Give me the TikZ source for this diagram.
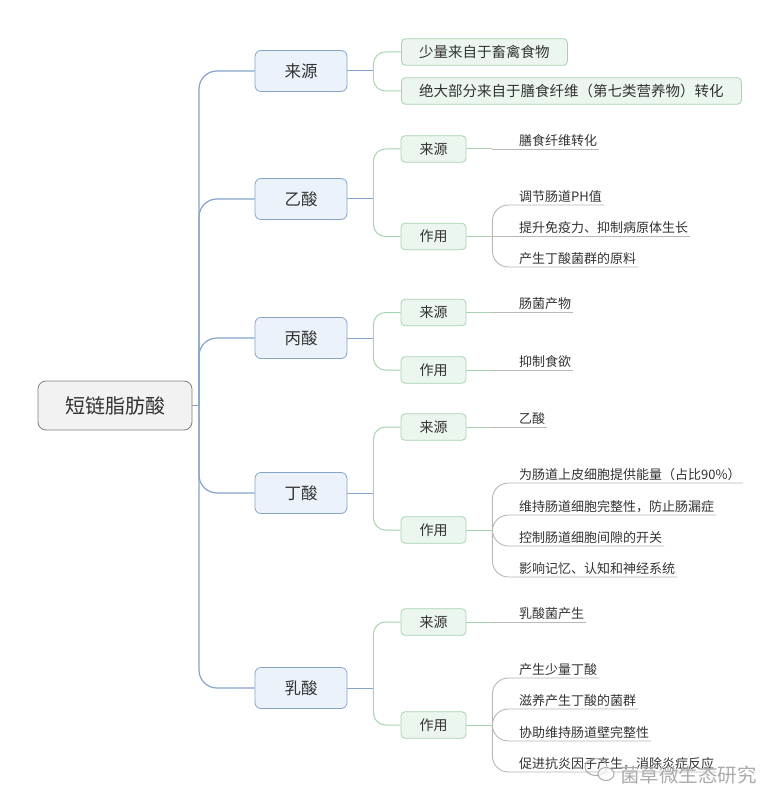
\documentclass[tikz,border=0pt]{standalone}
\usepackage{fontspec}
\newfontfamily\cjk{Noto Sans CJK SC}
\definecolor{txt}{HTML}{333333}
\definecolor{rootfill}{HTML}{F2F2F2}
\definecolor{rootline}{HTML}{808080}
\definecolor{bluefill}{HTML}{ECF2FA}
\definecolor{blueline}{HTML}{85A5CA}
\definecolor{greenfill}{HTML}{EBF6EE}
\definecolor{greenline}{HTML}{A6D4B0}
\definecolor{leafline}{HTML}{B8B8B8}
\definecolor{wm}{HTML}{ABABAB}
\newcommand\leafc[4]{%
  \node[leaftext] (#1) at (519,#3) {#4};
  \draw[lconn, rounded corners=16pt] (#2) -- (#2 |- #1.south west) -- ([xshift=2pt]#1.south east);
}
\newcommand\leafs[4]{%
  \node[leaftext] (#1) at (519,#3) {#4};
  \draw[lconn] (#2) -- ([xshift=2pt]#1.south east);
}
\begin{document}
\begin{tikzpicture}[x=1pt,y=-1pt,
  rootbox/.style={draw=rootline, fill=rootfill, rounded corners=8pt, minimum width=154pt, minimum height=49pt, font=\cjk\fontsize{20}{24}\selectfont, text=txt, line width=0.8pt},
  lonebox/.style={draw=blueline, fill=bluefill, rounded corners=6pt, minimum width=92pt, minimum height=41pt, font=\cjk\fontsize{16.5}{20}\selectfont, text=txt, line width=0.8pt},
  ltwobox/.style={draw=greenline, fill=greenfill, rounded corners=4pt, minimum width=65pt, minimum height=26.5pt, font=\cjk\fontsize{14}{17}\selectfont, text=txt, line width=0.8pt},
  srcbox/.style={ltwobox, font=\cjk\fontsize{14.5}{17}\selectfont, anchor=west},
  leaftext/.style={font=\cjk\fontsize{13}{16}\selectfont, text=txt, anchor=south west, inner xsep=0pt, inner ysep=1.5pt, text height=10pt, text depth=2pt},
  trunk/.style={draw=blueline, line width=1.2pt},
  gconn/.style={draw=greenline, line width=1pt},
  lconn/.style={draw=leafline, line width=0.9pt},
]
\useasboundingbox (0,0) rectangle (780,810);
\fill[white] (0,0) rectangle (780,810);

% root and level 1
\node[rootbox] (root) at (115,405.5) {短链脂肪酸};
\node[lonebox] (ly) at (301,71) {来源};
\node[lonebox] (yi) at (301,199) {乙酸};
\node[lonebox] (bing) at (301,338) {丙酸};
\node[lonebox] (ding) at (301,493) {丁酸};
\node[lonebox] (ru) at (301,688) {乳酸};

\coordinate (tj) at (199,405.5);
\draw[trunk] (root.east) -- (tj);
\foreach \n in {ly,yi,bing,ding,ru}{
  \draw[trunk, rounded corners=18pt] (tj) -- (tj |- \n.west) -- (\n.west);
}

% level 2
\node[srcbox, minimum width=166pt] (s1) at (401,52) {少量来自于畜禽食物};
\node[srcbox, minimum width=340pt] (s2) at (401,91) {绝大部分来自于膳食纤维（第七类营养物）转化};

\node[ltwobox] (yily) at (433.5,149) {来源};
\node[ltwobox] (yizy) at (433.5,236.5) {作用};
\node[ltwobox] (bingly) at (433.5,312.5) {来源};
\node[ltwobox] (bingzy) at (433.5,370) {作用};
\node[ltwobox] (dingly) at (433.5,427) {来源};
\node[ltwobox] (dingzy) at (433.5,530) {作用};
\node[ltwobox] (ruly) at (433.5,622) {来源};
\node[ltwobox] (ruzy) at (433.5,725) {作用};

\foreach \p/\a/\b in {ly/s1/s2, yi/yily/yizy, bing/bingly/bingzy, ding/dingly/dingzy, ru/ruly/ruzy}{
  \coordinate (\p-j) at ([xshift=26pt]\p.east);
  \draw[trunk, line width=1pt] (\p.east) -- (\p-j);
  \draw[gconn, rounded corners=12pt] (\p-j) -- (\p-j |- \a.west) -- (\a.west);
  \draw[gconn, rounded corners=12pt] (\p-j) -- (\p-j |- \b.west) -- (\b.west);
}

\foreach \b in {yily,yizy,bingly,bingzy,dingly,dingzy,ruly,ruzy}{
  \coordinate (\b-j) at ([xshift=26pt]\b.east);
  \draw[gconn] (\b.east) -- (\b-j);
}

% leaves
\leafs{a1}{yily-j}{149}{膳食纤维转化}
\leafc{a2}{yizy-j}{205}{调节肠道PH值}
\leafs{a3}{yizy-j}{236.5}{提升免疫力、抑制病原体生长}
\leafc{a4}{yizy-j}{267}{产生丁酸菌群的原料}
\leafs{b1}{bingly-j}{312.5}{肠菌产物}
\leafs{b2}{bingzy-j}{370}{抑制食欲}
\leafs{c1}{dingly-j}{427}{乙酸}
\leafc{c2}{dingzy-j}{483}{为肠道上皮细胞提供能量（占比90\%）}
\leafc{c3}{dingzy-j}{515}{维持肠道细胞完整性，防止肠漏症}
\leafc{c4}{dingzy-j}{546}{控制肠道细胞间隙的开关}
\leafc{c5}{dingzy-j}{577}{影响记忆、认知和神经系统}
\leafs{d1}{ruly-j}{622}{乳酸菌产生}
\leafc{d2}{ruzy-j}{678}{产生少量丁酸}
\leafc{d3}{ruzy-j}{709}{滋养产生丁酸的菌群}
\leafc{d4}{ruzy-j}{741}{协助维持肠道壁完整性}
\leafc{d5}{ruzy-j}{772}{促进抗炎因子产生，消除炎症反应}

% watermark
\draw[wm, line width=1pt] (596,767) ellipse (11pt and 8.5pt);
\draw[wm, line width=1pt, fill=white, fill opacity=0.7] (606,774) ellipse (8pt and 6.5pt);
\node[font=\cjk\fontsize{19.5}{22}\selectfont, text=wm, anchor=west, inner xsep=0pt] (wmark) at (620,775) {菌草微生态研究};
\end{tikzpicture}
\end{document}
